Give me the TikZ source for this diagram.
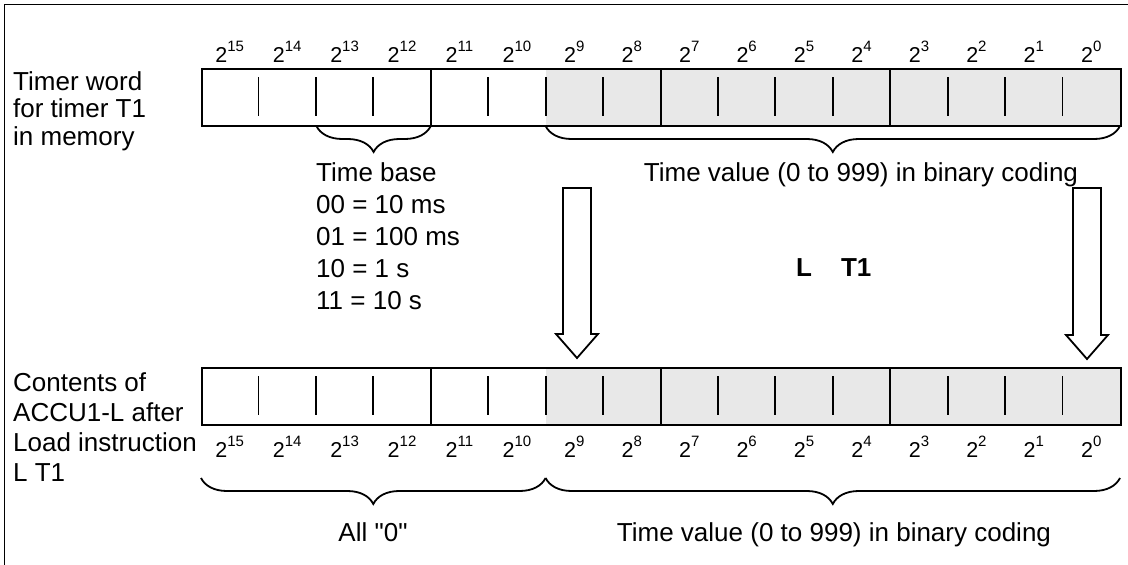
\documentclass[tikz,border=0pt]{standalone}
\usepackage{fontspec}
\setmainfont{Liberation Sans}[Ligatures=TeXOff]
\usetikzlibrary{decorations.pathreplacing}
\newcommand\txtsize{\fontsize{26}{27.5}\selectfont}
\newcommand\bitsup[1]{\raisebox{11pt}{\fontsize{15}{16}\selectfont #1}}
\tikzset{
  frameline/.style={draw=black, line width=1.6pt},
  boxline/.style={draw=black, line width=2pt},
  tickline/.style={draw=black, line width=1.8pt},
  shadefill/.style={fill=black!9},
  bitlbl/.style={anchor=base, inner sep=0pt, font=\fontsize{21.5}{22}\selectfont},
  txt/.style={inner sep=0pt, font=\txtsize},
  bracestyle/.style={draw=black, line width=1.8pt, decorate, decoration={brace, amplitude=26pt}},
  blockarrow/.style={draw=black, line width=1.8pt, fill=white, line join=miter},
}
\newcommand\drawregister[2]{%
  \fill[shadefill] (545.6,#2) rectangle (1120,#2+57);
  \foreach \i in {1,2,3,5,6,7,9,10,11,13,14,15}{
    \draw[tickline] ({201+\i*57.4375},#2+9) -- ({201+\i*57.4375},#2+48);
  }
  \foreach \i in {4,8,12}{
    \draw[boxline] ({201+\i*57.4375},#2) -- ({201+\i*57.4375},#2+57);
  }
  \node[boxline, rectangle, minimum width=919pt, minimum height=57pt, inner sep=0pt, anchor=north west] (#1) at (201,#2) {};
}
\begin{document}
\begin{tikzpicture}[x=1pt,y=-1pt]
\useasboundingbox (0,0) rectangle (1128,565);
\fill[white] (0,0) rectangle (1128,565);
\begin{scope}
\clip (0,0) rectangle (1128,565);
\draw[frameline] (4.5,4.5) rectangle (1140,580);
\end{scope}

% top register
\drawregister{topreg}{68}
\foreach \i in {0,...,15}{
  \pgfmathtruncatemacro\b{15-\i}
  \node[bitlbl] (tl\b) at ({201+(\i+0.5)*57.4375},62) {2\bitsup{\b}};
}
% bottom register
\drawregister{botreg}{367}
\foreach \i in {0,...,15}{
  \pgfmathtruncatemacro\b{15-\i}
  \node[bitlbl] (bl\b) at ({201+(\i+0.5)*57.4375},457) {2\bitsup{\b}};
}

% left labels (anchor base = last line's baseline)
\node[txt, anchor=base west, align=left, font=\fontsize{26}{27.5}\selectfont] (toplabel) at (13,145) {Timer word\\for timer T1\\in memory};
\node[txt, anchor=base west, align=left, font=\fontsize{26}{30}\selectfont] (botlabel) at (13,481.5) {Contents of\\ACCU1-L after\\Load instruction\\L T1};

% top braces
\coordinate (tb1a) at (316.4,126);
\coordinate (tb1b) at (430.8,126);
\coordinate (tb2a) at (545.6,126);
\coordinate (tb2b) at (1120,126);
\draw[bracestyle] (tb1b) -- (tb1a);
\draw[bracestyle] (tb2b) -- (tb2a);

\node[txt, anchor=base west, align=left, font=\fontsize{26}{32}\selectfont] (timebase) at (316,309)
  {Time base\\00 = 10 ms\\01 = 100 ms\\10 = 1 s\\11 = 10 s};
\node[txt, anchor=base] (tvtop) at (861,181) {Time value (0 to 999) in binary coding};

% block arrows
\draw[blockarrow] (563,188) -- (591,188) -- (591,334) -- (598,334) -- (577,358) -- (556,334) -- (563,334) -- cycle;
\draw[blockarrow] (1073,188) -- (1101,188) -- (1101,335) -- (1108,335) -- (1087,359) -- (1066,335) -- (1073,335) -- cycle;

\node[txt, anchor=base west, font=\fontsize{26}{28}\selectfont\bfseries] (ldt1) at (796,276) {L\hspace{29pt}T1};

% bottom braces
\coordinate (bb1a) at (201,478);
\coordinate (bb1b) at (545.6,478);
\coordinate (bb2a) at (545.6,478);
\coordinate (bb2b) at (1120,478);
\draw[bracestyle] (bb1b) -- (bb1a);
\draw[bracestyle] (bb2b) -- (bb2a);

\node[txt, anchor=base] (allzero) at (373,541) {All "0"};
\node[txt, anchor=base] (tvbot) at (834,541) {Time value (0 to 999) in binary coding};
\end{tikzpicture}
\end{document}
